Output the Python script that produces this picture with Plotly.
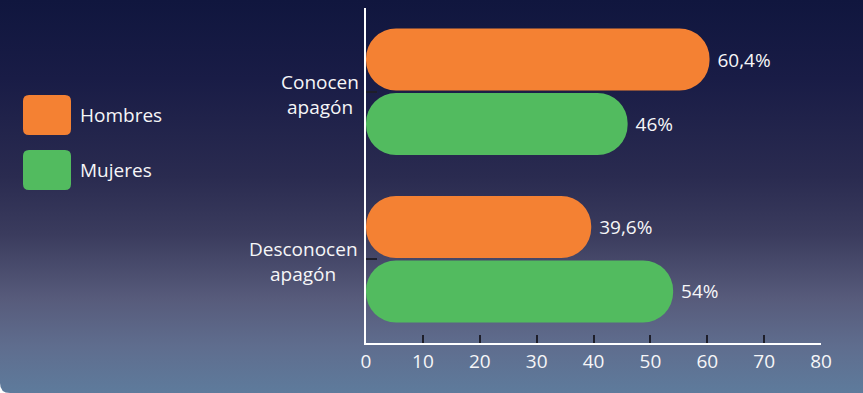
import base64
import plotly.graph_objects as go

# Datos
categorias = ["Conocen<br>apagón", "Desconocen<br>apagón"]
series = ["Hombres", "Mujeres"]
hombres = [60.4, 39.6]
mujeres = [46, 54]
etiquetas_hombres = ["60,4%", "39,6%"]
etiquetas_mujeres = ["46%", "54%"]
colores = ["#F48133", "#52BB5F"]

W, H = 863, 393
ML, MR, MT, MB = 366, 42, 8, 50
PW, PH = W - ML - MR, H - MT - MB
FUENTE = "Open Sans"
BLANCO = "#F6F6F8"
TAM = 19

# Fondo degradado (svg como imagen)
svg = f"""<svg xmlns="http://www.w3.org/2000/svg" width="{W}" height="{H}" viewBox="0 0 {W} {H}" preserveAspectRatio="none">
<defs><linearGradient id="g" x1="0" y1="0" x2="0" y2="1">
<stop offset="0" stop-color="#10163E"/>
<stop offset="0.2" stop-color="#191C46"/>
<stop offset="0.45" stop-color="#2A2B50"/>
<stop offset="0.6" stop-color="#3B3C5E"/>
<stop offset="0.76" stop-color="#575B7B"/>
<stop offset="0.88" stop-color="#5F6D8E"/>
<stop offset="1" stop-color="#5E7B9C"/>
</linearGradient></defs>
<path d="M0,0 L{W},0 L{W},{H} L10,{H} Q0,{H} 0,{H-10} Z" fill="url(#g)"/>
</svg>"""
fondo = "data:image/svg+xml;base64," + base64.b64encode(svg.encode()).decode()

fig = go.Figure()

# base explícita -> plotly redondea los dos extremos de la barra
for nombre, valores, textos, color in zip(series, [hombres, mujeres],
                                          [etiquetas_hombres, etiquetas_mujeres], colores):
    fig.add_trace(go.Bar(
        y=categorias, x=valores, base=[0] * len(valores),
        orientation="h", name=nombre,
        marker=dict(color=color, line=dict(width=0), cornerradius="50%"),
        text=textos, texttemplate=" %{text}", textposition="outside", cliponaxis=False,
        textfont=dict(color=BLANCO, size=TAM, family=FUENTE),
        showlegend=False, hoverinfo="skip",
    ))

# Leyenda manual
shapes = []
annotations = []
rect = "M -18,-20 L 18,-20 Q 24,-20 24,-14 L 24,14 Q 24,20 18,20 L -18,20 Q -24,20 -24,14 L -24,-14 Q -24,-20 -18,-20 Z"
for i, (nombre, color) in enumerate(zip(series, colores)):
    cy = 115 + i * 55
    shapes.append(dict(
        type="path", xref="paper", yref="paper", xsizemode="pixel", ysizemode="pixel",
        xanchor=(47 - ML) / PW, yanchor=((H - MB) - cy) / PH,
        path=rect, fillcolor=color, line=dict(width=0), layer="above",
    ))
    annotations.append(dict(
        text=nombre, xref="paper", yref="paper", x=(78 - ML) / PW, y=((H - MB) - cy) / PH,
        xanchor="left", yanchor="middle", showarrow=False,
        font=dict(color=BLANCO, size=TAM, family=FUENTE),
    ))

# Etiquetas de categoría centradas (una anotación por línea, más interlineado)
centros_px = [319.5, 303]
for cat, cx in zip(categorias, centros_px):
    lineas = cat.split("<br>")
    for linea, dy in zip(lineas, [10, -15]):
        annotations.append(dict(
            text=linea, xref="paper", yref="y", x=(cx - ML) / PW, y=cat, yshift=dy,
            xanchor="center", yanchor="middle", showarrow=False,
            font=dict(color=BLANCO, size=TAM, family=FUENTE),
        ))

fig.update_layout(
    width=W, height=H,
    margin=dict(l=ML, r=MR, t=MT, b=MB),
    paper_bgcolor="white",
    plot_bgcolor="rgba(0,0,0,0)",
    barmode="group", bargap=0.23, bargroupgap=0.04,
    font=dict(family=FUENTE, color=BLANCO, size=TAM),
    shapes=shapes, annotations=annotations,
    images=[dict(
        source=fondo, xref="paper", yref="paper",
        x=-ML / PW, y=1 + MT / PH, sizex=W / PW, sizey=H / PH,
        xanchor="left", yanchor="top", sizing="stretch", layer="below",
    )],
    xaxis=dict(
        range=[0, 80], dtick=10, showgrid=False, zeroline=False,
        showline=True, linecolor="white", linewidth=1.5,
        ticks="inside", ticklen=8, tickwidth=1.5, tickcolor="#1E1E2A",
        tickfont=dict(color=BLANCO, size=TAM, family=FUENTE),
    ),
    yaxis=dict(
        type="category", categoryorder="array", categoryarray=categorias,
        autorange="reversed", showgrid=False, zeroline=False,
        showline=True, linecolor="white", linewidth=1.5,
        ticks="inside", ticklen=11, tickwidth=1.5, tickcolor="#1E1E2A",
        showticklabels=False,
    ),
)

fig.write_html("out.html", config={"displayModeBar": False},
               post_script="document.body.style.margin='0';")
